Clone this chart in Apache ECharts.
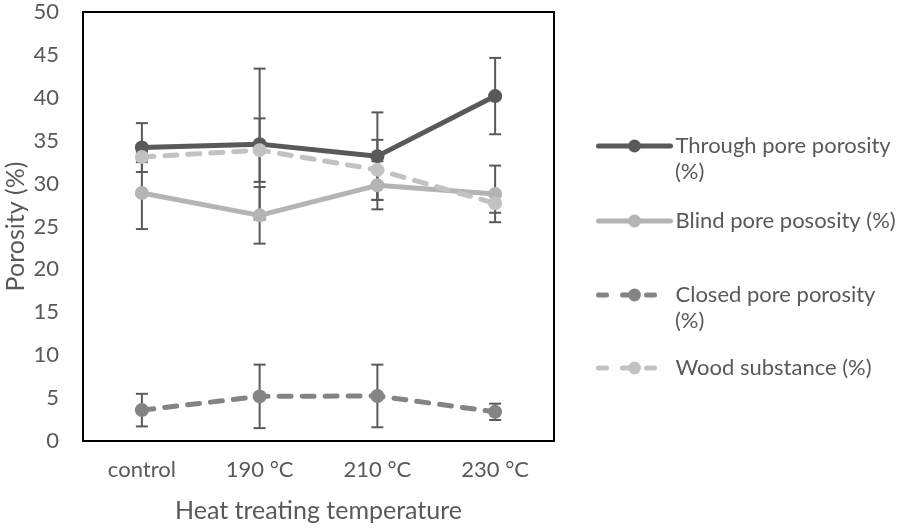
<!DOCTYPE html>
<html><head><meta charset="utf-8">
<script src="https://cdn.jsdelivr.net/npm/echarts@6/dist/echarts.min.js"></script>
<style>html,body{margin:0;padding:0;background:#fff}#c{width:898px;height:528px}</style>
</head><body><div id="c"></div>
<script>
const categories = ['control', '190 °C', '210 °C', '230 °C'];
const yTicks = [0, 50, 5];
const throughVals = [34.2, 34.6, 33.2, 40.2];
const throughErr = [2.85, 8.8, 5.1, 4.45];
const blindVals = [28.9, 26.3, 29.8, 28.8];
const blindErr = [4.2, 3.3, 2.8, 3.3];
const closedVals = [3.6, 5.2, 5.25, 3.4];
const closedErr = [1.9, 3.7, 3.65, 0.95];
const woodVals = [33.1, 33.9, 31.6, 27.7];
const woodErr = [0.6, 3.7, 3.5, 1.1];
const names = ['Through pore porosity (%)', 'Blind pore pososity (%)', 'Closed pore porosity (%)', 'Wood substance (%)'];
const legendLabels = ['Through pore porosity', 'Blind pore pososity (%)', 'Closed pore porosity', 'Wood substance (%)'];

const FONT = 'Lato';
const TXT = '#595959';
const colors = ['#595959', '#b4b4b4', '#848484', '#c2c2c2'];
const vals = [throughVals, blindVals, closedVals, woodVals];
const errs = [throughErr, blindErr, closedErr, woodErr];
const dashed = [false, false, true, true];

function errSeries(v, e) {
  return {
    type: 'custom', z: 1, silent: true,
    data: v.map((y, i) => [i, y, e[i]]),
    renderItem: function (params, api) {
      const x = api.value(0), y = api.value(1), d = api.value(2);
      const hi = api.coord([x, y + d]);
      const lo = api.coord([x, y - d]);
      const w = 6;
      const st = {stroke: '#5a5a5a', lineWidth: 2};
      return {type: 'group', children: [
        {type: 'line', shape: {x1: hi[0], y1: hi[1], x2: lo[0], y2: lo[1]}, style: st},
        {type: 'line', shape: {x1: hi[0] - w, y1: hi[1], x2: hi[0] + w, y2: hi[1]}, style: st},
        {type: 'line', shape: {x1: lo[0] - w, y1: lo[1], x2: lo[0] + w, y2: lo[1]}, style: st}
      ]};
    }
  };
}

const series = [];
for (let k = 0; k < 4; k++) series.push(errSeries(vals[k], errs[k]));
for (let k = 0; k < 4; k++) {
  series.push({
    name: names[k], type: 'line', z: 3 + k, data: vals[k],
    symbol: 'circle', symbolSize: 14, showSymbol: true,
    itemStyle: {color: colors[k]},
    lineStyle: {color: colors[k], width: 5, type: dashed[k] ? [12, 11] : 'solid', cap: 'round'},
    animation: false
  });
}

const legendTops = [146, 221, 295, 368];
const legends = legendTops.map((cy, k) => ({
  data: [names[k]], left: 596, top: cy - 14.5, padding: 0,
  itemWidth: 72, itemHeight: 16, itemGap: 0,
  formatter: () => legendLabels[k],
  lineStyle: {width: 5, cap: 'round', type: dashed[k] ? [8, 16] : 'solid'},
  textStyle: {fontFamily: FONT, fontSize: 22, color: TXT, lineHeight: 29},
  selectedMode: false
}));

const chart = echarts.init(document.getElementById('c'));
chart.setOption({
  animation: false,
  backgroundColor: '#fff',
  grid: {left: 83, right: 344, top: 12, bottom: 87, show: true, borderColor: '#000', borderWidth: 2, backgroundColor: 'transparent', outerBoundsMode: 'none', containLabel: false},
  xAxis: {
    type: 'category', data: categories, boundaryGap: true,
    axisLine: {show: true, lineStyle: {color: '#000', width: 2}}, axisTick: {show: false},
    axisLabel: {fontFamily: FONT, fontSize: 22, color: TXT, margin: 18},
    name: 'Heat treating temperature', nameLocation: 'middle', nameGap: 57, nameMoveOverlap: false,
    nameTextStyle: {fontFamily: FONT, fontSize: 25, color: TXT}
  },
  yAxis: {
    type: 'value', min: yTicks[0], max: yTicks[1], interval: yTicks[2],
    axisLine: {show: true, lineStyle: {color: '#000', width: 2}}, axisTick: {show: false},
    splitLine: {show: false},
    axisLabel: {fontFamily: FONT, fontSize: 22, color: TXT, margin: 24},
    name: 'Porosity (%)', nameLocation: 'middle', nameGap: 55, nameRotate: 90, nameMoveOverlap: false,
    nameTextStyle: {fontFamily: FONT, fontSize: 25, color: TXT}
  },
  legend: legends,
  graphic: [
    {type: 'text', left: 675, top: 175 - 14, style: {text: '(%)', font: '22px Lato', fill: TXT}},
    {type: 'text', left: 675, top: 324 - 14, style: {text: '(%)', font: '22px Lato', fill: TXT}}
  ],
  series: series
});
</script></body></html>
